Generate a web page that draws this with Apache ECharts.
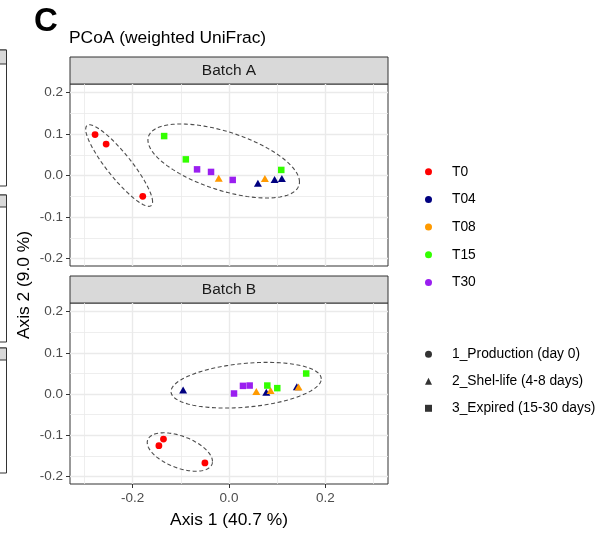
<!DOCTYPE html>
<html><head><meta charset="utf-8">
<script src="https://cdn.jsdelivr.net/npm/echarts@6/dist/echarts.min.js"></script>
<style>html,body{margin:0;padding:0;background:#fff}#c{width:610px;height:533px}</style>
</head><body><div id="c"></div>
<script>
// ---------- data ----------
const groups = ['T0', 'T04', 'T08', 'T15', 'T30'];
const groupColors = ['#FF0000', '#000080', '#FF9A00', '#33FF00', '#9A1FF0'];
const groupShapes = ['circle', 'triangle', 'triangle', 'rect', 'rect'];
const shapeNames = ['1_Production (day 0)', '2_Shel-life (4-8 days)', '3_Expired (15-30 days)'];
const shapeIcons = ['circle', 'triangle', 'rect'];
const batches = ['Batch A', 'Batch B'];
const xTicks = [-0.2, 0.0, 0.2];
const yTicks = [-0.2, -0.1, 0.0, 0.1, 0.2];
const xMinorGrid = [-0.3, -0.1, 0.1, 0.3];
const yMinorGrid = [-0.15, -0.05, 0.05, 0.15];

// Batch A  [Axis 1, Axis 2]
const batchA_T0  = [[-0.278, 0.099], [-0.255, 0.076], [-0.179, -0.050]];
const batchA_T04 = [[0.060, -0.0185], [0.0946, -0.0096], [0.1097, -0.0072]];
const batchA_T08 = [[-0.0213, -0.0065], [0.0745, -0.0072]];
const batchA_T15 = [[-0.1346, 0.0954], [-0.0896, 0.0392], [0.1085, 0.0137]];
const batchA_T30 = [[-0.0663, 0.0151], [-0.0373, 0.0089], [0.0077, -0.0104]];
// Batch B
const batchB_T0  = [[-0.136, -0.109], [-0.1455, -0.125], [-0.050, -0.167]];
const batchB_T04 = [[-0.0952, 0.0097], [0.0774, 0.0048], [0.1408, 0.0177]];
const batchB_T08 = [[0.0567, 0.0063], [0.0863, 0.0087], [0.1443, 0.017]];
const batchB_T15 = [[0.0795, 0.0208], [0.1002, 0.0145], [0.1602, 0.050]];
const batchB_T30 = [[0.0104, 0.0015], [0.029, 0.020], [0.0429, 0.0208]];

// ellipses: [centre x, centre y, u x, u y, v x, v y] (conjugate semi-diameters)
const ellipsesA = [[-0.228, 0.0243, 0.0694, -0.0875, 0, 0.045],
                   [-0.011, 0.0353, 0.1573, -0.0505, 0, 0.0736]];
const ellipsesB = [[-0.102, -0.1404, 0.0677, -0.023, 0, 0.0405],
                   [0.0356, 0.0216, 0.1559, 0.0153, 0, 0.0532]];

const batchData = [
  [batchA_T0, batchA_T04, batchA_T08, batchA_T15, batchA_T30],
  [batchB_T0, batchB_T04, batchB_T08, batchB_T15, batchB_T30]
];
const batchEllipses = [ellipsesA, ellipsesB];

// ---------- layout ----------
const FONT = 'Liberation Sans, Arial, Helvetica, sans-serif';
const X_MIN = -0.33, X_MAX = 0.33, Y_MIN = -0.218, Y_MAX = 0.221;
const grids = [
  {left: 70, top: 84, width: 318, height: 182},
  {left: 70, top: 303, width: 318, height: 181}
];
const strips = [{y: 57, h: 27}, {y: 276, h: 27}];

const chart = echarts.init(document.getElementById('c'), null, {renderer: 'canvas'});

const GRID_COL = '#EAEAEA';
const xAxes = [], yAxes = [];
grids.forEach((g, i) => {
  const bottom = i === grids.length - 1;
  xAxes.push({
    type: 'value', gridIndex: i, min: X_MIN, max: X_MAX, position: 'bottom',
    axisLine: {show: false, onZero: false},
    axisTick: {show: bottom, length: 4, customValues: xTicks, lineStyle: {color: '#333333', width: 1}},
    axisLabel: {show: bottom, customValues: xTicks, margin: 7, color: '#4D4D4D', fontSize: 13.5, fontFamily: FONT,
      formatter: v => v.toFixed(1)},
    splitLine: {show: true, lineStyle: {color: GRID_COL, width: 1.4}}
  });
  xAxes.push({
    type: 'value', gridIndex: i, min: X_MIN, max: X_MAX, position: 'top',
    axisLine: {show: false, onZero: false}, axisTick: {show: false, customValues: xMinorGrid},
    axisLabel: {show: false, customValues: xMinorGrid},
    splitLine: {show: true, lineStyle: {color: GRID_COL, width: 0.8}}
  });
  yAxes.push({
    type: 'value', gridIndex: i, min: Y_MIN, max: Y_MAX, position: 'left',
    axisLine: {show: false, onZero: false},
    axisTick: {show: true, length: 4, customValues: yTicks, lineStyle: {color: '#333333', width: 1}},
    axisLabel: {show: true, customValues: yTicks, margin: 7, color: '#4D4D4D', fontSize: 13.5, fontFamily: FONT,
      formatter: v => v.toFixed(1)},
    splitLine: {show: true, lineStyle: {color: GRID_COL, width: 1.4}}
  });
  yAxes.push({
    type: 'value', gridIndex: i, min: Y_MIN, max: Y_MAX, position: 'right',
    axisLine: {show: false, onZero: false}, axisTick: {show: false, customValues: yMinorGrid},
    axisLabel: {show: false, customValues: yMinorGrid},
    splitLine: {show: true, lineStyle: {color: GRID_COL, width: 0.8}}
  });
});

const series = [];
batchData.forEach((groupsData, b) => {
  series.push({
    type: 'custom', name: 'ellipse' + b, xAxisIndex: b * 2, yAxisIndex: b * 2,
    data: batchEllipses[b], encode: {x: 0, y: 1}, silent: true, z: 3,
    renderItem: function (params, api) {
      const cx = api.value(0), cy = api.value(1), ux = api.value(2), uy = api.value(3),
            vx = api.value(4), vy = api.value(5);
      const pts = [];
      for (let k = 0; k <= 120; k++) {
        const t = 2 * Math.PI * k / 120;
        pts.push(api.coord([cx + Math.cos(t) * ux + Math.sin(t) * vx, cy + Math.cos(t) * uy + Math.sin(t) * vy]));
      }
      return {type: 'polygon', shape: {points: pts},
        style: {fill: 'none', stroke: '#4D4D4D', lineWidth: 1.1, lineDash: [4, 2.6]}};
    }
  });
  groupsData.forEach((d, g) => {
    const shp = groupShapes[g];
    series.push({
      type: 'scatter', name: groups[g], xAxisIndex: b * 2, yAxisIndex: b * 2, data: d,
      symbol: shp, symbolSize: shp === 'triangle' ? [8, 7] : (shp === 'rect' ? 6.5 : 6.8),
      itemStyle: {color: groupColors[g], opacity: 1}, z: 4, silent: true
    });
  });
});
shapeNames.forEach((n, i) => {
  series.push({type: 'scatter', name: n, xAxisIndex: 0, yAxisIndex: 0, data: [],
    symbol: shapeIcons[i], itemStyle: {color: '#000000'}});
});

const legendText = {
  fontSize: 13.8, fontFamily: FONT, color: '#000000', lineHeight: 14,
  rich: {t: {padding: [0, 0, 0, 15], fontSize: 13.8, fontFamily: FONT, color: '#000000', lineHeight: 14}}
};

const graphics = [];
// neighbouring panel fragments at left edge
[[50, 64, 186], [195, 207, 342], [348, 360, 473]].forEach(r => {
  graphics.push({type: 'rect', shape: {x: -10, y: r[0], width: 16.5, height: r[2] - r[0]},
    style: {fill: '#FFFFFF', stroke: '#333333', lineWidth: 1}, silent: true});
  graphics.push({type: 'rect', shape: {x: -10, y: r[0], width: 16.5, height: r[1] - r[0]},
    style: {fill: '#D9D9D9', stroke: '#333333', lineWidth: 1}, silent: true});
});
// strips
strips.forEach((s, i) => {
  graphics.push({type: 'rect', shape: {x: grids[i].left, y: s.y, width: grids[i].width, height: s.h},
    style: {fill: '#D9D9D9', stroke: '#333333', lineWidth: 1}, silent: true});
  graphics.push({type: 'text', x: grids[i].left + grids[i].width / 2, y: s.y + s.h / 2 + 0.5,
    style: {text: batches[i], fill: '#1A1A1A', font: '15.5px ' + FONT, align: 'center', verticalAlign: 'middle'},
    silent: true});
});
graphics.push({type: 'text', x: 34, y: 22, style: {text: 'C', fill: '#000', font: 'bold 33px ' + FONT,
  align: 'left', verticalAlign: 'middle'}});
graphics.push({type: 'text', x: 69, y: 38, style: {text: 'PCoA (weighted UniFrac)', fill: '#000',
  font: '17.4px ' + FONT, align: 'left', verticalAlign: 'middle'}});
graphics.push({type: 'text', x: 229, y: 520, style: {text: 'Axis 1 (40.7 %)', fill: '#000',
  font: '17.4px ' + FONT, align: 'center', verticalAlign: 'middle'}});
graphics.push({type: 'text', x: 24, y: 285, rotation: Math.PI / 2, style: {text: 'Axis 2 (9.0 %)', fill: '#000',
  font: '17.4px ' + FONT, align: 'center', verticalAlign: 'middle'}});

chart.setOption({
  animation: false,
  backgroundColor: '#FFFFFF',
  grid: grids.map(g => Object.assign({show: true, backgroundColor: '#FFFFFF', borderColor: '#333333', borderWidth: 1}, g)),
  xAxis: xAxes,
  yAxis: yAxes,
  legend: [
    {orient: 'vertical', left: 420, top: 159.7, itemWidth: 7, itemHeight: 7, itemGap: 13.7,
      data: groups.map(g => ({name: g, icon: 'circle'})), formatter: '{t|{name}}', textStyle: legendText,
      selectedMode: false},
    {orient: 'vertical', left: 420, top: 342.3, itemWidth: 7, itemHeight: 7, itemGap: 13,
      data: shapeNames.map((n, i) => ({name: n, icon: shapeIcons[i]})), formatter: '{t|{name}}', textStyle: legendText,
      selectedMode: false}
  ],
  graphic: graphics,
  series: series
});
</script>
</body></html>
